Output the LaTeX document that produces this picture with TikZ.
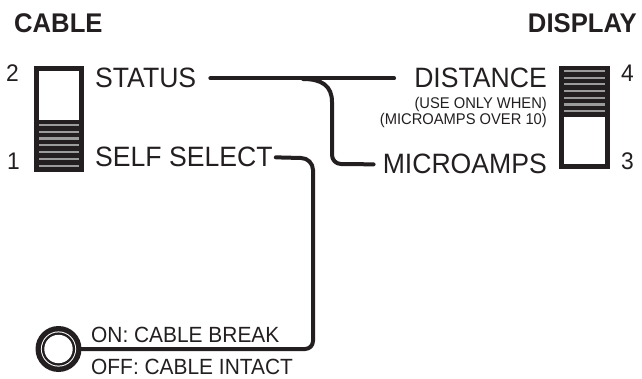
\documentclass[tikz,border=0pt]{standalone}
\usepackage{fontspec}
\setmainfont[FakeStretch=0.95]{Liberation Sans}
\definecolor{ink}{HTML}{231F20}
\definecolor{stripe}{HTML}{9B9B9B}
\tikzset{
  lbl/.style={inner sep=0pt, text=ink, font=\fontsize{28}{30}\selectfont},
  smalllbl/.style={inner sep=0pt, text=ink, font=\fontsize{15.5}{17}\selectfont},
  notelbl/.style={inner sep=0pt, text=ink, font=\fontsize{22}{24}\selectfont},
  numlbl/.style={inner sep=0pt, text=ink, font=\fontsize{24}{26}\selectfont},
  titlelbl/.style={inner sep=0pt, text=ink, font=\fontsize{27}{29}\selectfont\bfseries},
  wire/.style={draw=ink, line width=4pt, line cap=round, line join=round},
  stripeline/.style={draw=stripe, line width=2.2pt},
}
\begin{document}
\begin{tikzpicture}[x=1pt,y=-1pt]
\useasboundingbox (0,0) rectangle (642,379);

% titles
\node[titlelbl,anchor=base west] (cable) at (14,33) {CABLE};
\node[titlelbl,anchor=base east] (display) at (637,33) {DISPLAY};

% position numbers
\node[numlbl,anchor=base west] (n2) at (6,82) {2};
\node[numlbl,anchor=base west] (n1) at (7,170) {1};
\node[numlbl,anchor=base west] (n4) at (621,82) {4};
\node[numlbl,anchor=base west] (n3) at (621,170) {3};

% left switch (lower position)
\fill[ink] (34,66) rectangle (84,172);
\fill[white] (39,71) rectangle (79,120);
\foreach \yy in {125,131.8,138.6,145.4,152.2,159,165.8}
  \draw[stripeline] (39,\yy) -- (79,\yy);

% right switch (upper position)
\fill[ink] (559,66) rectangle (610,169);
\fill[white] (564,117) rectangle (605,164);
\foreach \yy in {71,77.7,84.4,91.1,97.8,104.5,111.2}
  \draw[stripeline] (564,\yy) -- (605,\yy);

% labels
\node[lbl,anchor=base west] (status) at (95,88) {STATUS};
\node[lbl,anchor=base west] (self) at (95,167) {SELF SELECT};
\node[lbl,anchor=base east] (distance) at (547,88) {DISTANCE};
\node[smalllbl,anchor=base east] (use) at (547,109) {(USE ONLY WHEN)};
\node[smalllbl,anchor=base east] (over) at (547,125) {(MICROAMPS OVER 10)};
\node[lbl,anchor=base east] (micro) at (547,174) {MICROAMPS};
\node[notelbl,anchor=base west] (on) at (91,342) {ON: CABLE BREAK};
\node[notelbl,anchor=base west] (off) at (91,374.5) {OFF: CABLE INTACT};

% lamp
\node[circle, fill=ink, minimum size=46pt, inner sep=0pt] (lamp) at (58.5,349) {};
\fill[white] (lamp.center) circle (17.6pt);
\fill[ink] (lamp.center) circle (16.6pt);
\fill[white] (lamp.center) circle (14.2pt);

% wires
\draw[wire] ([xshift=14pt]status.east) -- ([xshift=-20pt]distance.west);
\coordinate (jn) at (303,79);
\draw[wire] (jn) .. controls (322,79) and (332,86) .. (332,102)
  -- (332,155) arc[start angle=180, end angle=270, radius=9pt]
  -- ([xshift=-9pt]micro.west);
\draw[wire] ([xshift=3pt]self.east) -- (301,158)
  arc[start angle=90, end angle=0, radius=12pt]
  -- (313,341) arc[start angle=0, end angle=-90, radius=8pt]
  -- (lamp.east);
\end{tikzpicture}
\end{document}
